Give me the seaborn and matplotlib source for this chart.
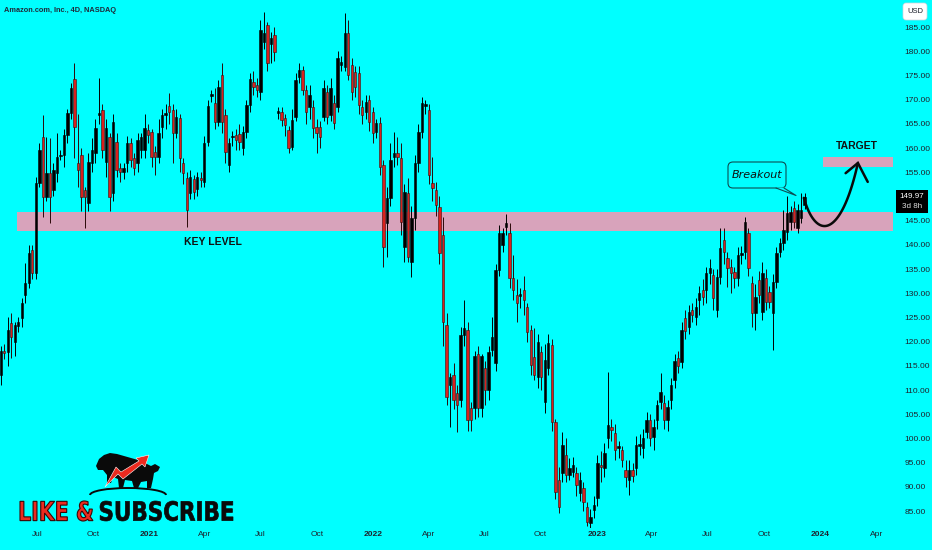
import numpy as np
import pandas as pd
import matplotlib
matplotlib.use("Agg")
import matplotlib.pyplot as plt
import seaborn as sns
from matplotlib.textpath import TextPath
from matplotlib.font_manager import FontProperties
from matplotlib.patches import PathPatch, FancyBboxPatch, Polygon, Rectangle, Arc
from matplotlib.transforms import Affine2D, IdentityTransform

# AMZN, 4D candles
opens = [113, 118, 117.8, 123.8, 119.9, 123.2, 124.9, 129.6, 132.1, 138.9,
         134.2, 152.8, 162.3, 149.9, 154.8, 151.3, 154.8, 158.3, 158.5, 162.7,
         167.2, 174.3, 156.9, 158.5, 151.3, 148.6, 156.9, 159, 166.8, 167.9,
         157.1, 162.3, 150.7, 161.2, 155.9, 155, 156.9, 161, 157.9, 156.9,
         159.6, 159.6, 163.7, 163.3, 159.2, 158.1, 164.3, 166.8, 168.7, 167.9,
         163.1, 166.2, 156.9, 153.8, 150.7, 153.6, 151.5, 153.9, 153, 161.2,
         170.8, 169.3, 165.4, 175.1, 166.8, 156.5, 162.2, 162.7, 162.8, 160,
         163.3, 168.9, 173.6, 173, 171.6, 181.9, 185.4, 181.5, 183.3, 167.3,
         167.4, 166.2, 163.7, 160.2, 166.4, 174.7, 176.1, 172, 168.5, 168.5,
         164.3, 164.3, 166.4, 171.6, 166.8, 169.3, 168.5, 177.1, 176.7, 183.8,
         177.1, 175.7, 175.5, 168.5, 167.4, 169.9, 167.4, 163.3, 165.2, 156.5,
         144.5, 149.7, 158.1, 159, 157.9, 139.5, 150.7, 136.4, 145.5, 156.9,
         163.3, 168.7, 167.9, 152.8, 151.3, 147.8, 142, 123.4, 111, 113.1,
         109.4, 107.9, 121.4, 122.4, 106.3, 106.3, 117.4, 106.3, 114.5, 110,
         118.3, 115.6, 134.8, 140, 143.7, 142.4, 133.1, 129.6, 129.5, 130.7,
         127.1, 122.4, 116.8, 112.7, 117.8, 107.5, 114.5, 119.3, 103.4, 91.4,
         92.9, 96.6, 92.4, 93, 92.9, 88.7, 89.8, 85.8, 82.5, 85.2,
         87.7, 94.3, 93.9, 100.1, 102.4, 101.1, 98, 97.6, 93.5, 91.4,
         93.5, 93.9, 98.5, 98, 101.3, 103.8, 100.3, 103.8, 107.5, 107.3,
         103.8, 107.9, 112, 116.6, 115.8, 124.9, 123, 126.5, 125.1, 128.6,
         130.7, 130.7, 134.2, 133.8, 126.5, 133.3, 141, 137.3, 135.4, 134.4,
         133.1, 137.9, 138.5, 142.4, 132.1, 125.9, 132.7, 126.1, 133.1, 130.3,
         125.9, 132.3, 138.5, 140.4, 142.6, 144.7, 147.6, 143.5, 145.5, 148.2]

highs = [119, 119.5, 125, 126, 124, 125, 129, 136.2, 140, 140,
         154, 161, 166.8, 162.3, 162, 157, 163, 159.5, 164, 168,
         173.5, 177.5, 167, 160, 152, 159, 162, 166, 174.5, 169,
         166, 163, 167, 163, 157, 157, 162.5, 162, 159, 163,
         163, 167, 165, 164, 160.5, 166, 168, 169, 171.4, 169,
         168, 167, 158, 155, 155.5, 154.5, 155, 155, 162.5, 170,
         172, 172.5, 174, 177.5, 168, 162, 163.5, 164, 165, 164.5,
         170, 175.5, 176, 174.5, 186.4, 188, 186, 184, 185, 168.5,
         168.5, 167, 164.5, 168, 175.5, 177.5, 177, 173, 173, 170,
         166, 165.5, 174, 173, 174.5, 171, 180, 179, 187.9, 186.5,
         178.5, 177, 177, 170, 171, 171, 168.5, 166, 166.5, 157.5,
         152, 161, 163.3, 162.3, 161, 152.5, 153.8, 148, 158.5, 165,
         170.5, 170, 169, 158.1, 153, 150, 145.7, 125.9, 113.5, 115.6,
         111, 123, 128.6, 124, 107.5, 118, 119, 117.5, 116, 119,
         125.1, 136, 144, 143.5, 146.4, 144.5, 137.9, 133, 131, 133.5,
         128, 123.5, 122.8, 121.5, 119, 119.5, 121.5, 120.5, 104, 94,
         101.3, 100, 96, 96.2, 94, 93, 91, 86.9, 85.5, 88,
         96.5, 97.5, 99, 113.7, 104, 103, 99.5, 98.5, 95.5, 95.5,
         95, 100.5, 101, 102, 105.5, 105, 104, 108, 113.5, 109,
         108, 112.5, 117.5, 118, 124, 126.5, 127.5, 128, 129, 131.5,
         133, 135.5, 137, 135, 135, 143.5, 143.5, 138.5, 137, 135.5,
         139.5, 139.8, 145.7, 143.5, 133.5, 132, 134.5, 136.5, 135, 131.5,
         134, 139.5, 141.5, 147.2, 150, 148, 149, 148.5, 150.7, 150.7]

lows = [111, 116.5, 115, 116.6, 117, 122, 123, 128, 131, 133,
        133, 152, 145.7, 149, 144.5, 150, 153, 157.5, 156, 161,
        166, 158, 152, 147, 143.5, 147, 155, 157, 165, 158,
        154, 147, 149, 154, 153, 153.5, 155, 156, 154.5, 155,
        158, 158, 161, 156, 154.4, 157, 162, 164, 165, 157,
        162, 155, 152.5, 143.7, 149.5, 149.5, 150, 152, 152, 160.5,
        169.5, 164, 164.5, 163, 157, 155, 160.5, 159.5, 159.5, 158.5,
        162, 167.5, 171, 170.5, 170, 180.5, 176, 177.5, 178, 166,
        164.5, 162.5, 159, 159.5, 165.5, 173.5, 171, 165, 166, 162,
        159, 160, 165.5, 165, 165.5, 164, 167.5, 176, 176, 174,
        170, 170.5, 167, 165, 166, 163.5, 161, 162, 154.5, 135.4,
        137.5, 148, 156, 156.5, 142, 136.5, 136.5, 133.4, 143, 155,
        162, 167, 152.5, 149, 146, 136, 119, 107, 102.4, 106,
        101.3, 106.5, 119, 101.5, 101.5, 104, 104.5, 104.5, 107, 108,
        117, 114, 133.5, 138.5, 142, 131, 128.5, 124, 127, 125.5,
        120, 113, 112, 110.5, 110, 105.2, 113, 101.5, 87.5, 84.5,
        91, 91, 91.5, 92, 88, 87, 85, 81.8, 81.5, 83.5,
        86, 91, 92, 98, 99.5, 95.5, 96, 94, 90, 88.3,
        91, 92.5, 96.5, 96, 100, 98.5, 97.6, 102, 106, 102,
        101.5, 106, 110.5, 113.5, 114.5, 120.5, 121.5, 124, 123.5, 125.5,
        127.5, 128, 132, 126.5, 125, 132, 136, 131.3, 130, 131,
        131.5, 136, 137, 133.5, 123, 122.5, 128, 124.5, 126.5, 127,
        118.3, 131, 137.5, 139, 141, 143, 143.5, 142.5, 144.5, 147.5]

closes = [118, 117.6, 122.4, 121, 123.4, 124, 128, 132.1, 138.3, 134.2,
          152.8, 159.6, 149.9, 154.8, 149.9, 155.5, 158.1, 158.5, 162.7, 167.2,
          172.4, 164.3, 155.5, 149.9, 149.9, 157.1, 159.6, 164.1, 167.2, 159.6,
          164.1, 149.9, 165.4, 155.5, 155, 155.9, 161, 157.5, 155.9, 161.6,
          162.3, 164.1, 162.7, 158.1, 158.1, 163.1, 166.8, 167.2, 167.4, 163.1,
          166.4, 157.9, 154.8, 147.2, 154, 151, 154, 153.3, 161, 168.7,
          171.2, 165.4, 172.6, 165.4, 159.2, 161, 162.4, 161.6, 161.3, 163.3,
          168.9, 174.3, 172.6, 172, 184.4, 183.8, 177.6, 182.8, 179.8, 167.4,
          165.8, 164.8, 160, 165.8, 174, 176.1, 172, 167.4, 171, 164.1,
          163.1, 162.3, 172.4, 166.4, 172.4, 165.2, 178.6, 177.8, 183.8, 175.1,
          171.6, 172.6, 168.9, 166.8, 169.5, 165.4, 163.1, 165.2, 156.1, 139.5,
          149.7, 157.5, 159, 158.2, 144.7, 150.9, 137.5, 145.5, 156.9, 163.3,
          169.3, 168.9, 154.4, 151.7, 148.2, 138.3, 124, 108.6, 112.7, 107.9,
          106.9, 121.4, 122.8, 103.8, 103.8, 117, 106.3, 117, 110, 117.8,
          121, 134.8, 142.4, 142.4, 144.5, 133.1, 130.7, 128, 129.7, 128.6,
          122, 115.2, 113.1, 119.9, 112.7, 116.2, 119.7, 103.4, 88.9, 85.8,
          98.6, 92.4, 93.9, 94.5, 90.4, 91.4, 86.9, 82.7, 83.8, 86.2,
          94.9, 94.1, 97, 102.8, 101.7, 97.6, 98.2, 95.5, 92, 93.5,
          92.2, 98.6, 98.6, 100.1, 103.8, 100.1, 102.4, 106.9, 109.6, 103.8,
          106.5, 111, 116, 115, 122.4, 122.2, 126.1, 125.5, 127.1, 130,
          129.2, 134.2, 135.2, 129, 133.3, 139.3, 138.5, 135.2, 134.2, 133.1,
          137.9, 138, 144.7, 135.2, 125.9, 129.2, 129.6, 134.2, 128.2, 128.2,
          132.3, 138.3, 140.4, 143.1, 146.6, 146.8, 144.7, 147.2, 147.2, 149.97]

first_bar = "2020-05-03"
BAR_DAYS = 5.73  # calendar days covered by one 4-trading-day bar
month_labels = ["Jul", "Oct", "2021", "Apr", "Jul", "Oct", "2022", "Apr",
                "Jul", "Oct", "2023", "Apr", "Jul", "Oct", "2024", "Apr"]
month_dates = ["2020-07-01", "2020-10-01", "2021-01-01", "2021-04-01",
               "2021-07-01", "2021-10-01", "2022-01-01", "2022-04-01",
               "2022-07-01", "2022-10-01", "2023-01-01", "2023-04-01",
               "2023-07-01", "2023-10-01", "2024-01-01", "2024-04-01"]
price_ticks = list(range(85, 190, 5))
key_level = (142.8, 146.8)
target_zone = (156.1, 158.2)
last_price = 149.97

BG = "#00ffff"
DOWN = "#d9201c"
BAND = "#d8a3bb"
TXT = "#1e222d"

sns.set_theme(style="white", rc={"axes.facecolor": BG, "figure.facecolor": BG})
plt.rcParams["font.family"] = ["Liberation Sans", "DejaVu Sans"]

W, H = 932, 550
fig = plt.figure(figsize=(W / 100, H / 100), dpi=100)
ax = fig.add_axes([0, 1 - 528 / H, 893 / W, 528 / H])
px = Affine2D().scale(1, -1).translate(0, H)  # pixel coords, y from the top

o, h, l, c = map(np.array, (opens, highs, lows, closes))
x = np.arange(len(c))
up = c >= o
XMIN, XMAX = -0.2, 254.2

# zones
ax.fill_between([4.6, XMAX], *key_level, color=BAND, lw=0, zorder=1)
ax.fill_between([234.2, XMAX], *target_zone, color=BAND, lw=0, zorder=1)

# candles
ax.vlines(x, l, h, colors=np.where(up, "#000000", "#2a0808"), lw=0.7, zorder=2)
ax.bar(x, np.maximum(np.abs(c - o), 0.35), bottom=np.minimum(o, c), width=0.68,
       color=np.where(up, "#000000", DOWN), edgecolor=np.where(up, "#000000", "#3a0a0a"),
       linewidth=0.4, zorder=3)

ax.set_xlim(XMIN, XMAX)
ax.set_ylim(81.49, 190.58)
for s in ax.spines.values():
    s.set_visible(False)

# time axis
tick_pos = (pd.to_datetime(month_dates) - pd.Timestamp(first_bar)).days / BAR_DAYS
ax.set_xticks(tick_pos)
ax.set_xticklabels(month_labels, fontsize=6, color=TXT)
for lab in ax.get_xticklabels():
    if lab.get_text().isdigit():
        lab.set_fontweight("bold")
ax.tick_params(axis="x", length=0, pad=2)

# price axis (the label under the last-price tag is hidden, as on the chart)
ax.yaxis.tick_right()
ax.set_yticks(price_ticks)
ax.set_yticklabels(["" if abs(p - last_price) < 3 else f"{p:.2f}" for p in price_ticks],
                   fontsize=6, color=TXT)
ax.tick_params(axis="y", length=0, pad=8.5)

# annotations
ax.text(60.5, 140.5, "KEY LEVEL", ha="center", va="center", fontsize=7.5,
        fontweight="bold", color="#111111")
ax.text(244.0, 160.5, "TARGET", ha="center", va="center", fontsize=7.5,
        fontweight="bold", color="#111111")

# projected move (cubic bezier) with open arrowhead
p0, p1, p2, p3 = map(np.array, ([228.8, 149.7], [232.2, 141.0], [239.3, 141.0], [244.2, 156.9]))
t = np.linspace(0, 1, 60)[:, None]
curve = (1 - t) ** 3 * p0 + 3 * (1 - t) ** 2 * t * p1 + 3 * (1 - t) * t ** 2 * p2 + t ** 3 * p3
ax.plot(curve[:, 0], curve[:, 1], color="#0a0a0a", lw=1.8, solid_capstyle="round", zorder=5)
ax.plot([240.7, 244.2, 247.0], [154.8, 156.9, 153.0], color="#0a0a0a", lw=1.8,
        solid_capstyle="round", solid_joinstyle="miter", zorder=5)

# breakout callout
fig.add_artist(FancyBboxPatch((728, H - 188), 58, 26, boxstyle="round,pad=0,rounding_size=5",
                              fc=BG, ec="#0d4d52", lw=0.8, transform=IdentityTransform()))
fig.add_artist(Polygon([(776, 187.6), (796, 195.5), (784, 187.6)], closed=True, fc=BG,
                       ec="none", transform=px))
fig.add_artist(plt.Line2D([776, 796, 784], [188, 195.5, 188], color="#0d4d52", lw=0.8,
                          transform=px))
fig.text(757, 175, "Breakout", transform=px, ha="center", va="center", fontsize=8,
         style="italic", color="#111111", family=["DejaVu Sans"])

# header / right-scale labels
fig.text(4, 11, "Amazon.com, Inc., 4D, NASDAQ", transform=px, ha="left", va="center",
         fontsize=5.3, fontweight="bold", color="#1e2a3a")
fig.add_artist(FancyBboxPatch((903, H - 20), 24, 17, boxstyle="round,pad=0,rounding_size=3",
                              fc="white", ec="#d0d3da", lw=0.5, transform=IdentityTransform()))
fig.text(915, 11.5, "USD", transform=px, ha="center", va="center", fontsize=5.5, color=TXT)
fig.add_artist(Rectangle((896, H - 213), 32, 23, fc="black", ec="none",
                         transform=IdentityTransform()))
fig.text(912, 196, f"{last_price:.2f}", transform=px, ha="center", va="center",
         fontsize=5.8, color="white")
fig.text(912, 207, "3d 8h", transform=px, ha="center", va="center", fontsize=5.8,
         color="#e0e0e0")


# "LIKE & SUBSCRIBE" badge
def squeezed_text(s, x0, y0, x1, y1, face, edge, lw):
    tp = TextPath((0, 0), s, size=50, prop=FontProperties(family="DejaVu Sans", weight="bold"))
    bb = tp.get_extents()
    tr = (Affine2D().translate(-bb.x0, -bb.y0)
          .scale((x1 - x0) / bb.width, (y1 - y0) / bb.height).translate(x0, H - y1))
    fig.add_artist(PathPatch(tr.transform_path(tp), fc=face, ec=edge, lw=lw,
                             transform=IdentityTransform()))


squeezed_text("LIKE &", 20, 501, 93, 521, "#ec2a1f", "#3a0505", 0.8)
squeezed_text("SUBSCRIBE", 100, 501, 233, 521, "#0a0a0a", "#0a0a0a", 0.5)

bear_bull = [(96, 466), (99, 459), (104, 455), (110, 453), (117, 454), (124, 456), (131, 458),
             (138, 460), (145, 463), (151, 466), (155, 464), (160, 467), (158, 471), (154, 473),
             (153, 479), (151, 488), (147, 488), (147, 481), (141, 482), (138, 488), (134, 488),
             (132, 481), (125, 480), (123, 488), (119, 488), (118, 479), (113, 477), (111, 483),
             (107, 483), (107, 475), (103, 470), (98, 470)]
red_arrow = [(105, 487), (116, 467), (121, 472), (139, 461), (136, 458), (149, 455),
             (145, 467), (142, 464), (123, 479), (118, 474)]
fig.add_artist(Polygon(bear_bull, closed=True, fc="#0a0a0a", ec="none", transform=px))
fig.add_artist(Polygon(red_arrow, closed=True, fc="#ec2a1f", ec="#ffffff", lw=0.4, transform=px))
fig.add_artist(Arc((128, H - 495), 76, 14, theta1=0, theta2=180, color="#0a0a0a", lw=1.4,
                   transform=IdentityTransform()))

fig.savefig("out.png", dpi=100, facecolor=BG)
